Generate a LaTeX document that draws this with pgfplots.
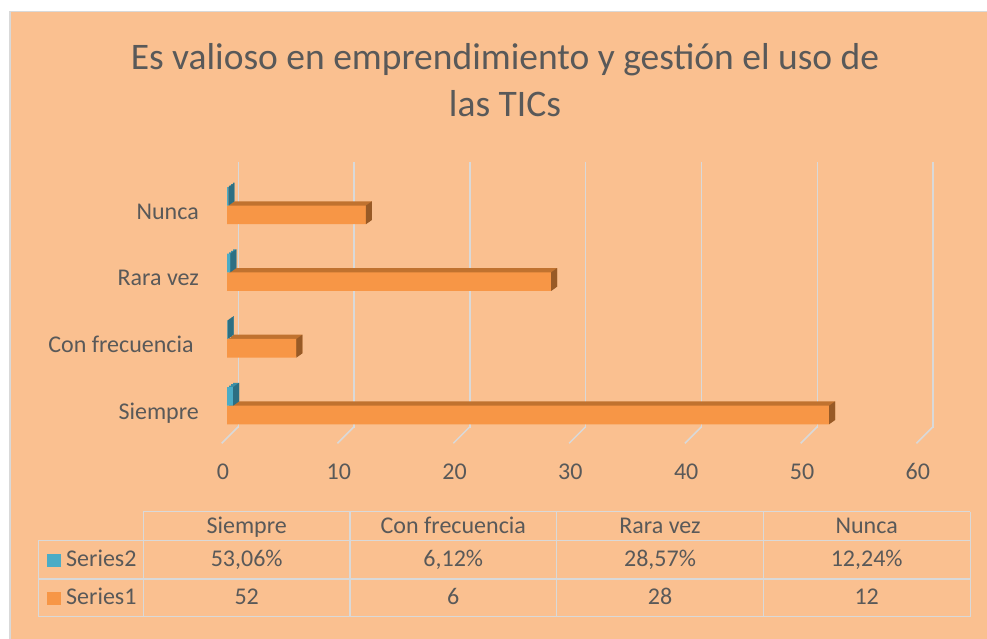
\documentclass[border=0pt]{standalone}
\usepackage{pgfplots}
\usepackage{pgfplotstable}
\pgfplotsset{compat=1.18}
\usepackage{fontspec}
\setmainfont{Carlito}
\definecolor{bg}{HTML}{FAC090}
\definecolor{org}{HTML}{F79646}
\definecolor{orgtop}{HTML}{C0722F}
\definecolor{orgside}{HTML}{985A26}
\definecolor{tl}{HTML}{4BACC6}
\definecolor{tltop}{HTML}{3A8FA6}
\definecolor{tlside}{HTML}{2C6F83}
\definecolor{txt}{HTML}{595959}
\definecolor{grd}{HTML}{D9D9D9}
\pgfplotstableread{
cat s1 s2
0 52 0.5306
1 6 0.0612
2 28 0.2857
3 12 0.1224
}\data
% side faces of the 3D bars, drawn at the end of each bar
\pgfdeclareplotmark{sideA}{%
  \pgfpathmoveto{\pgfpoint{0pt}{-18.6pt}}%
  \pgfpathlineto{\pgfpoint{6pt}{-14.3pt}}%
  \pgfpathlineto{\pgfpoint{6pt}{4.3pt}}%
  \pgfpathlineto{\pgfpoint{0pt}{0pt}}%
  \pgfpathclose\pgfusepathqfill}
\pgfdeclareplotmark{sideB}{%
  \pgfpathmoveto{\pgfpoint{0pt}{0pt}}%
  \pgfpathlineto{\pgfpoint{6pt}{4.3pt}}%
  \pgfpathlineto{\pgfpoint{6pt}{22.9pt}}%
  \pgfpathlineto{\pgfpoint{0pt}{18.6pt}}%
  \pgfpathclose\pgfusepathqfill}
\pgfplotsset{
  s1bar/.style={xbar, bar width=18.6pt, bar shift=-9.3pt, draw=none},
  s2bar/.style={xbar, bar width=18.6pt, bar shift=9.3pt, draw=none},
}
\begin{document}
\begin{tikzpicture}[x=1pt,y=1pt]
\path[use as bounding box] (0,0) rectangle (987,639);
\fill[white] (0,0) rectangle (987,639);
\fill[bg] (9,0) rectangle (987,627);
\draw[grd,line width=1.5pt] (9.75,0) -- (9.75,627.25) -- (987,627.25);
\node[txt, font=\fontsize{37.5}{45}\selectfont, anchor=base] at (505,569.5) {Es valioso en emprendimiento y gestión el uso de};
\node[txt, font=\fontsize{37.5}{45}\selectfont, anchor=base] at (505,522.5) {las TICs};
\begin{axis}[
  at={(227pt,200pt)}, anchor=south west,
  scale only axis, width=694.8pt, height=266.7pt,
  xmin=0, xmax=60, ymin=-0.5, ymax=3.5,
  axis line style={draw=none},
  major tick length=0pt,
  xtick={0,10,...,60},
  ytick={0,1,2,3},
  yticklabels={Siempre,Con frecuencia\hspace*{5.2pt},Rara vez,Nunca},
  tick label style={txt, font=\fontsize{24}{29}\selectfont},
  xticklabel style={anchor=base, inner sep=0pt, xshift=-4pt, yshift=-41pt},
  yticklabel style={anchor=base east, inner sep=0pt, xshift=-28pt, yshift=-13.6pt},
  /pgf/number format/assume math mode=true,
  xmajorgrids,
  major grid style={draw=grd, line width=1.5pt, xshift=11.3pt, yshift=10.6pt},
  clip=false,
]
\pgfplotsinvokeforeach{0,10,20,30,40,50,60}{
  \draw[grd, line width=1.5pt] ([xshift=11.3pt,yshift=12.3pt]axis cs:#1,-0.5) -- ([xshift=-5.3pt,yshift=-4.3pt]axis cs:#1,-0.5);
}
% Series1 (orange): top face, side face, front face
\addplot[s1bar, fill=orgtop, xshift=2pt, yshift=1.43pt] table[x=s1,y=cat]{\data};
\addplot[s1bar, fill=orgtop, xshift=4pt, yshift=2.87pt] table[x=s1,y=cat]{\data};
\addplot[s1bar, fill=orgtop, xshift=6pt, yshift=4.3pt] table[x=s1,y=cat]{\data};
\addplot[only marks, mark=sideA, color=orgside, mark options={fill=orgside, draw=none}] table[x=s1,y=cat]{\data};
\addplot[s1bar, fill=org] table[x=s1,y=cat]{\data};
% Series2 (teal)
\addplot[s2bar, fill=tltop, xshift=2pt, yshift=1.43pt] table[x=s2,y=cat]{\data};
\addplot[s2bar, fill=tltop, xshift=4pt, yshift=2.87pt] table[x=s2,y=cat]{\data};
\addplot[s2bar, fill=tltop, xshift=6pt, yshift=4.3pt] table[x=s2,y=cat]{\data};
\addplot[only marks, mark=sideB, color=tlside, mark options={fill=tlside, draw=none}] table[x=s2,y=cat]{\data};
\addplot[s2bar, fill=tl] table[x=s2,y=cat]{\data};
\end{axis}
% data table
\begin{scope}[grd, line width=1.5pt]
\draw (143.3,127.3) -- (970.3,127.3);
\draw (38.3,98.3) -- (970.3,98.3);
\draw (38.3,60) -- (970.3,60);
\draw (38.3,22.3) -- (970.3,22.3);
\draw (38.3,98.3) -- (38.3,22.3);
\foreach \x in {143.3,350,556.7,763.3,970.3} \draw (\x,127.3) -- (\x,22.3);
\end{scope}
\begin{scope}[every node/.style={txt, font=\fontsize{24}{29}\selectfont, anchor=base, inner sep=0pt}]
\node at (246.7,105.7) {Siempre};
\node at (453.3,105.7) {Con frecuencia};
\node at (660,105.7) {Rara vez};
\node at (866.7,105.7) {Nunca};
\node at (246.7,72.3) {53,06\%};
\node at (453.3,72.3) {6,12\%};
\node at (660,72.3) {28,57\%};
\node at (866.7,72.3) {12,24\%};
\node at (246.7,34) {52};
\node at (453.3,34) {6};
\node at (660,34) {28};
\node at (866.7,34) {12};
\node[anchor=base west] at (46.7,72.3) {{\color{tl}\rule[-0.3pt]{14pt}{13pt}}\hspace{5.3pt}Series2};
\node[anchor=base west] at (46.7,34) {{\color{org}\rule[-0.3pt]{14pt}{13pt}}\hspace{5.3pt}Series1};
\end{scope}
\end{tikzpicture}
\end{document}
